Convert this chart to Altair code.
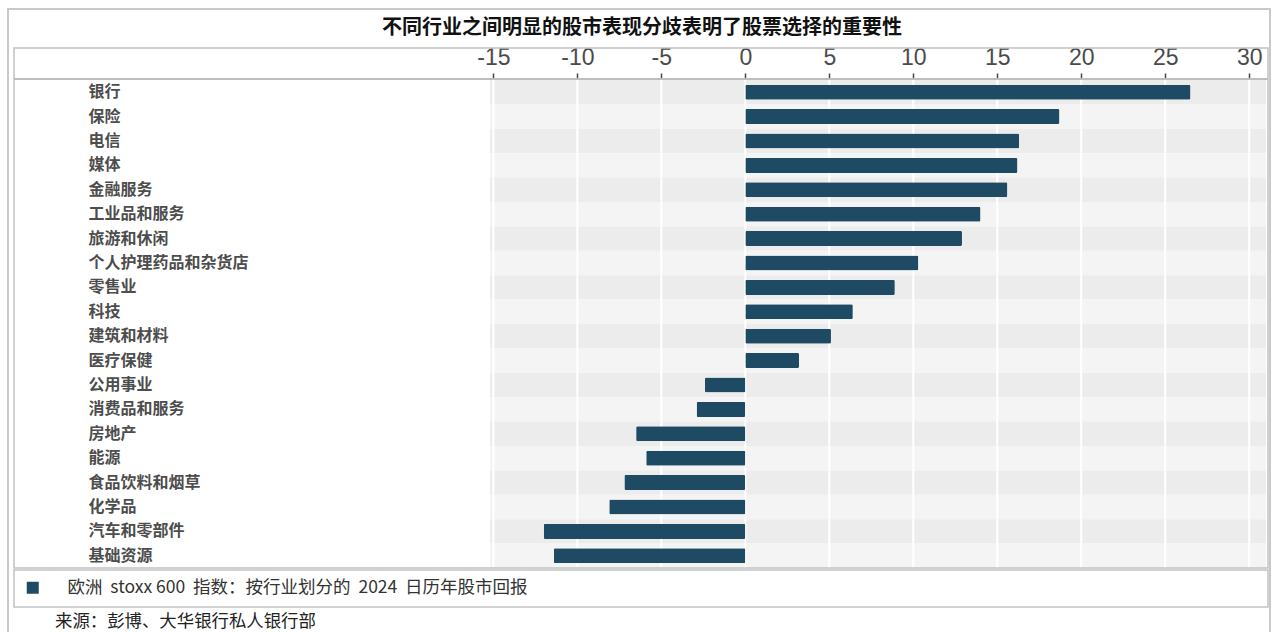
import altair as alt
import pandas as pd

categories = ["银行", "保险", "电信", "媒体", "金融服务", "工业品和服务", "旅游和休闲",
              "个人护理药品和杂货店", "零售业", "科技", "建筑和材料", "医疗保健", "公用事业",
              "消费品和服务", "房地产", "能源", "食品饮料和烟草", "化学品", "汽车和零部件", "基础资源"]
values = [26.5, 18.7, 16.3, 16.2, 15.6, 14.0, 12.9, 10.3, 8.9, 6.4, 5.1, 3.2, -2.4,
          -2.9, -6.5, -5.9, -7.2, -8.1, -12.0, -11.4]
tick_values = [-15, -10, -5, 0, 5, 10, 15, 20, 25, 30]
series_name = "欧洲\u00a0\u00a0stoxx 600\u00a0\u00a0指数：按行业划分的\u00a0\u00a02024\u00a0\u00a0日历年股市回报"
title_text = "不同行业之间明显的股市表现分歧表明了股票选择的重要性"
source_text = "来源：彭博、大华银行私人银行部"

W, H = 776, 488
CJK = "Noto Sans CJK SC"

df = pd.DataFrame({"cat": categories, "val": values, "series": series_name})
df["band"] = [i % 2 for i in range(len(categories))]
ticks_df = pd.DataFrame({"t": tick_values})
one = pd.DataFrame({"k": [0]})

xscale = alt.Scale(domain=[-15.2, 31], nice=False, zero=False)
yscale = alt.Scale(paddingInner=0, paddingOuter=0)

bands = alt.Chart(df).mark_rect().encode(
    y=alt.Y("cat:N", sort=categories, scale=yscale,
            axis=alt.Axis(title=None, orient="left", labelAlign="left", labelPadding=402,
                          ticks=False, tickSize=0, domain=False, labelFontSize=16,
                          labelFontWeight="bold", labelColor="#4d4d4d", labelFont=CJK,
                          labelLimit=400)),
    x=alt.value(0), x2=alt.value(W),
    fill=alt.Fill("band:N", scale=alt.Scale(domain=[0, 1], range=["#ececec", "#f4f4f4"]), legend=None),
)

grid = alt.Chart(ticks_df).mark_rule(color="white", strokeWidth=2).encode(
    x=alt.X("t:Q", scale=xscale,
            axis=alt.Axis(title=None, orient="top", values=tick_values, labelExpr="'' + datum.value",
                          labelFont="Liberation Sans", labelFontSize=23, labelColor="#4a4a4a",
                          tickSize=6, tickColor="#444", tickWidth=1.5, labelPadding=4,
                          domain=False, grid=False, offset=1))
)

bars = alt.Chart(df).mark_bar(size=15, cornerRadius=1.5).encode(
    y=alt.Y("cat:N", sort=categories, scale=yscale),
    x=alt.X("val:Q", scale=xscale),
    color=alt.Color("series:N", scale=alt.Scale(range=["#1e4a64"]),
                    legend=alt.Legend(orient="none", legendX=-466, legendY=499, title=None,
                                      symbolType="square", symbolSize=144, symbolStrokeWidth=0,
                                      labelFont=CJK, labelFontSize=17.5, labelColor="#333",
                                      labelOffset=26, labelLimit=900)),
)

frame_outer = alt.Chart(one).mark_rect(filled=False, color="#c9c9c9", strokeWidth=2).encode(
    x=alt.value(-482), x2=alt.value(780), y=alt.value(-71), y2=alt.value(560))
frame_inner = alt.Chart(one).mark_rect(filled=False, color="#c2c2c2", strokeWidth=1.5).encode(
    x=alt.value(-476), x2=alt.value(778), y=alt.value(-32), y2=alt.value(488))
header_line = alt.Chart(one).mark_rule(color="#bdbdbd", strokeWidth=2).encode(
    x=alt.value(-476), x2=alt.value(778), y=alt.value(-1))
legend_box = alt.Chart(one).mark_rect(filled=False, color="#c2c2c2", strokeWidth=1.5).encode(
    x=alt.value(-476), x2=alt.value(778), y=alt.value(490), y2=alt.value(527))

title = alt.Chart(one).mark_text(text=title_text, font=CJK, fontSize=20, fontWeight="bold",
                                 color="#111", align="center", baseline="middle").encode(
    x=alt.value(152), y=alt.value(-52))
source = alt.Chart(one).mark_text(text=source_text, font=CJK, fontSize=17.4, color="#222",
                                  align="left", baseline="middle").encode(
    x=alt.value(-435), y=alt.value(542))

chart = alt.layer(bands, grid, bars, frame_outer, frame_inner, header_line, legend_box, title, source).resolve_scale(
    fill="independent", color="independent"
).properties(
    width=W, height=H,
    autosize=alt.AutoSizeParams(type="none"),
    padding={"left": 490, "top": 80, "right": 8, "bottom": 64},
    background="white",
).configure_view(stroke=None)

chart.save("out.html", embed_options={"renderer": "svg", "actions": False})
